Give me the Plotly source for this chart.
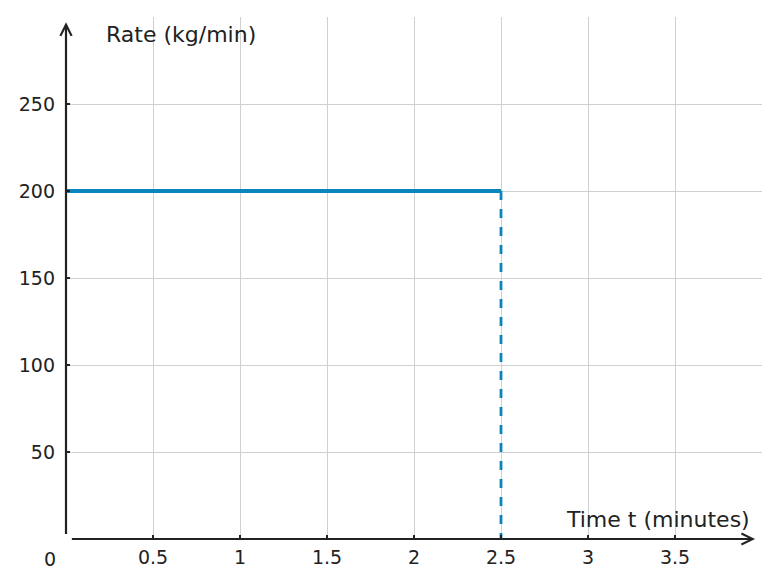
import plotly.graph_objects as go

# data
rate_t = [0, 2.5]
rate_val = [200, 200]
drop_t = [2.5, 2.5]
drop_val = [200, 0]

x_ticks = [0.5, 1, 1.5, 2, 2.5, 3, 3.5]
x_labels = ["0.5", "1", "1.5", "2", "2.5", "3", "3.5"]
y_ticks = [50, 100, 150, 200, 250]
y_labels = ["50", "100", "150", "200", "250"]

ink = "#222222"
blue = "#0a85bc"
grid = "#d0d0d0"
font = "DejaVu Sans"

fig = go.Figure()
fig.add_trace(go.Scatter(x=rate_t, y=rate_val, mode="lines",
                         line=dict(color=blue, width=4), hoverinfo="skip"))
fig.add_trace(go.Scatter(x=drop_t, y=drop_val, mode="lines",
                         line=dict(color=blue, width=2.8, dash="dash"), hoverinfo="skip"))

# axis arrows
fig.add_annotation(x=3.96, y=0, ax=0.025, ay=0, xref="x", yref="y", axref="x", ayref="y",
                   text="", showarrow=True, arrowhead=5, arrowsize=1, arrowwidth=2.2, arrowcolor=ink)
fig.add_annotation(x=0, y=297, ax=0, ay=2, xref="x", yref="y", axref="x", ayref="y",
                   text="", showarrow=True, arrowhead=5, arrowsize=1, arrowwidth=2.2, arrowcolor=ink)

fig.add_annotation(x=0, y=0, xref="x", yref="y", text="0", showarrow=False,
                   xanchor="center", yanchor="top", xshift=-16, yshift=-7,
                   font=dict(family=font, size=19, color=ink))
fig.add_annotation(x=0.22, y=298, xref="x", yref="y", text="Rate (kg/min)", showarrow=False,
                   xanchor="left", yanchor="top", font=dict(family=font, size=22, color=ink))
fig.add_annotation(x=3.94, y=3, xref="x", yref="y", text="Time t (minutes)", showarrow=False,
                   xanchor="right", yanchor="bottom", font=dict(family=font, size=22, color=ink))

fig.update_xaxes(range=[0, 4], tickvals=x_ticks, ticktext=x_labels, showgrid=True, gridcolor=grid,
                 gridwidth=1.4, zeroline=False, showline=False, ticks="inside", ticklen=4,
                 tickwidth=2, tickcolor=ink, ticklabelstandoff=5,
                 tickfont=dict(family=font, size=19, color=ink))
fig.update_yaxes(range=[0, 300], tickvals=y_ticks, ticktext=y_labels, showgrid=True, gridcolor=grid,
                 gridwidth=1.4, zeroline=False, showline=False, ticks="inside", ticklen=4,
                 tickwidth=2, tickcolor=ink, ticklabelstandoff=10,
                 tickfont=dict(family=font, size=19, color=ink))

fig.update_layout(width=780, height=587, showlegend=False,
                  margin=dict(l=58, r=26, t=9, b=56),
                  plot_bgcolor="white", paper_bgcolor="white")

fig.write_html("out.html")
